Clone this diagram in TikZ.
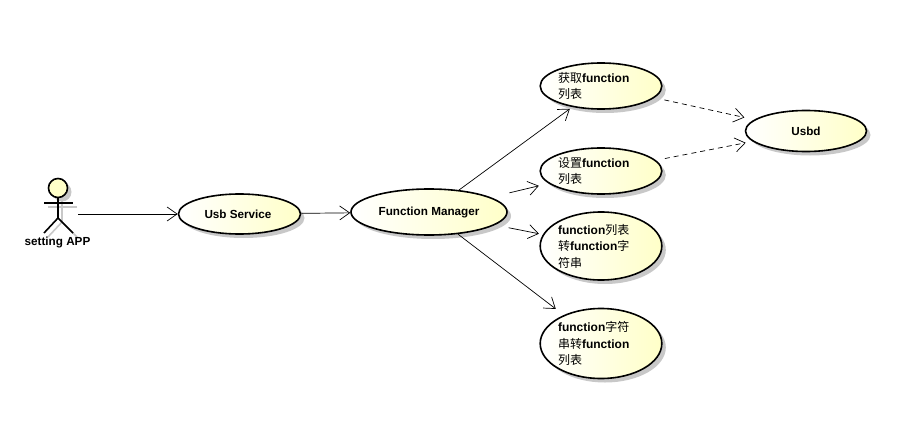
\documentclass[tikz,border=0pt]{standalone}
\usepackage{fontspec}
\setmainfont{Liberation Sans}
\newfontfamily\cjk{Noto Sans CJK SC}
\usetikzlibrary{arrows.meta,shapes.geometric,shadows}
\newcommand{\zh}[1]{{\cjk\mdseries #1}}
\definecolor{caseyellow}{HTML}{FFFFC8}
\definecolor{edgeshadow}{HTML}{C8C8C8}
\tikzset{
  usecase/.style={ellipse,draw=black,line width=1.6pt,inner sep=0pt,
    left color=white,right color=caseyellow,
    drop shadow={shadow xshift=4pt,shadow yshift=-4pt,fill=edgeshadow,opacity=1},
    font=\bfseries\fontsize{11.7pt}{16.5pt}\selectfont},
  widecase/.style={usecase,align=left,text width=86pt,
    font=\bfseries\fontsize{12pt}{16.5pt}\selectfont},
  assoc/.style={line width=0.7pt,-{Straight Barb[length=10pt,width=14pt,line width=0.7pt]}},
  dep/.style={assoc,dash pattern=on 5pt off 4pt}
}
\begin{document}
\begin{tikzpicture}[x=1pt,y=-1pt]
  \useasboundingbox (0,0) rectangle (912,441);
  % actor shadow
  \begin{scope}[shift={(4,4)},edgeshadow,line width=1.6pt]
    \fill (58,188) circle (9.5pt);
    \draw (58,197) -- (58,218) (44,203) -- (73,203);
    \draw (44,233) -- (58,218) -- (73,233);
  \end{scope}
  % actor
  \node[circle,draw=black,line width=1.6pt,fill=caseyellow,minimum size=19pt,inner sep=0pt] (head) at (58,188) {};
  \coordinate (neck) at (58,218);
  \coordinate (handl) at (44,203);
  \coordinate (handr) at (73,203);
  \coordinate (footl) at (44,233);
  \coordinate (footr) at (73,233);
  \coordinate (actorout) at (78,214);
  \draw[line width=1.6pt] (head.south) -- (neck);
  \draw[line width=1.6pt] (handl) -- (handr);
  \draw[line width=1.6pt] (footl) -- (neck) -- (footr);
  \node[font=\bfseries\fontsize{11.7pt}{14pt}\selectfont] (actor) at (57.5,242) {setting APP};
  % use cases
  \node[usecase,minimum width=122pt,minimum height=40pt] (usb) at (239.5,214) {\hspace{-3pt}Usb Service};
  \node[usecase,minimum width=156pt,minimum height=46pt] (fm) at (429,212) {Function Manager};
  \node[widecase,minimum width=121pt,minimum height=46pt] (get) at (601,86) {\zh{获取}function\\\zh{列表}\\[2pt]};
  \node[widecase,minimum width=121pt,minimum height=46pt] (set) at (601,171) {\zh{设置}function\\\zh{列表}\\[2pt]};
  \node[widecase,minimum width=121pt,minimum height=68pt] (tostr) at (601,246) {function\zh{列表}\\\zh{转}function\zh{字}\\\zh{符串}\\[3pt]};
  \node[widecase,minimum width=121pt,minimum height=70pt] (tolist) at (601,343.5) {function\zh{字符}\\\zh{串转}function\\\zh{列表}\\[1pt]};
  \node[usecase,minimum width=121pt,minimum height=41pt] (usbd) at (806,131) {Usbd};
  % connectors
  \draw[assoc] (actorout) -- (usb);
  \draw[assoc] (usb) -- (fm);
  \draw[assoc,shorten >=3pt] (fm) -- (get);
  \draw[assoc,shorten <=19pt,shorten >=10pt] (fm) -- (set);
  \draw[assoc,shorten <=14pt,shorten >=4pt] (fm) -- (tostr);
  \draw[assoc,shorten >=10pt] (fm) -- (tolist);
  \draw[dep,shorten <=10pt,shorten >=10pt] (get) -- (usbd);
  \draw[dep,shorten <=9pt,shorten >=7pt] (set) -- (usbd);
\end{tikzpicture}
\end{document}
